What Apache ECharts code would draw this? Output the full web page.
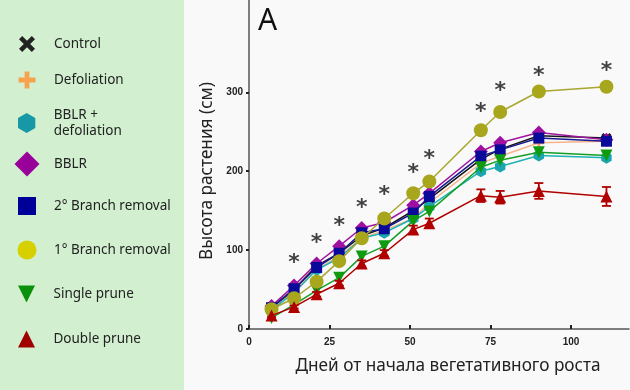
<!DOCTYPE html>
<html><head><meta charset="utf-8">
<script src="https://cdn.jsdelivr.net/npm/echarts@6/dist/echarts.min.js"></script>
<style>html,body{margin:0;padding:0;background:#f9f9f9}#c{width:630px;height:390px}</style>
</head><body><div id="c"></div>
<script>
const days = [7, 14, 21, 28, 35, 42, 51, 56, 72, 78, 90, 111];
const control = [27, 50, 80, 96, 118, 128, 150, 165, 215, 228, 245, 242];
const defoliation = [25, 48, 76, 92, 115, 125, 140, 160, 210, 219, 236, 238];
const bblrDefoliation = [24, 46, 75, 90, 115, 122, 140, 155, 200, 206, 220, 217];
const bblr = [29, 55, 83, 105, 128, 135, 157, 172, 225, 236, 249, 240];
const branch2 = [27, 51, 78, 96, 122, 127, 147, 168, 219, 227, 242, 238];
const branch1 = [25, 39, 60, 86, 115, 140, 172, 187, 252, 275, 301, 307];
const singlePrune = [14, 31, 49, 65, 92, 105, 137, 149, 205, 214, 224, 220];
const doublePrune = [17, 28, 44, 58, 83, 96, 126, 134, 169, 167, 175, 168];
const doublePruneErr = [2, 2, 3, 3, 4, 4, 5, 6, 8, 8, 10, 12];
const starDays = [14, 21, 28, 35, 42, 51, 56, 72, 78, 90, 111];
const starHeights = [88, 114, 135, 158, 174, 202, 220, 280, 307, 326, 332];
const xTicks = [0, 25, 50, 75, 100];
const yTicks = [0, 100, 200, 300];
const legendNames = ['Control', 'Defoliation', 'BBLR +\ndefoliation', 'BBLR', '2° Branch removal', '1° Branch removal', 'Single prune', 'Double prune'];

const P = {
  x: 'path://M2,0 L5,3 L8,0 L10,2 L7,5 L10,8 L8,10 L5,7 L2,10 L0,8 L3,5 L0,2 Z',
  plus: 'path://M3.6,0 H6.4 V3.6 H10 V6.4 H6.4 V10 H3.6 V6.4 H0 V3.6 H3.6 Z',
  hex: 'path://M5,0 L10,2.9 L10,8.66 L5,11.55 L0,8.66 L0,2.9 Z',
  diamond: 'path://M5,0 L10,5 L5,10 L0,5 Z',
  rect: 'path://M0,0 H10 V10 H0 Z',
  circle: 'path://M5,0 A5,5 0 1,1 5,10 A5,5 0 1,1 5,0 Z',
  down: 'path://M0,0 L10,0 L5,10 Z',
  up: 'path://M5,0 L10,10 L0,10 Z'
};

const defs = [
  {name: legendNames[0], data: control, line: '#151515', color: '#151515', sym: P.x, size: 10, icon: P.x, icolor: '#222', iw: 16, ih: 16, cy: 44, z: 3},
  {name: legendNames[1], data: defoliation, line: '#f6b48a', color: '#f6a56a', sym: P.plus, size: 10, icon: P.plus, icolor: '#f7a24f', iw: 17, ih: 17, cy: 80, z: 2},
  {name: legendNames[2], data: bblrDefoliation, line: '#1fb3b3', color: '#1aa5b0', sym: P.hex, size: 12, icon: P.hex, icolor: '#1798a6', iw: 18, ih: 20, cy: 123, z: 4, th: 32},
  {name: legendNames[3], data: bblr, line: '#a014a0', color: '#a010a0', sym: P.diamond, size: 14, icon: P.diamond, icolor: '#990099', iw: 25, ih: 25, cy: 164, z: 5},
  {name: legendNames[4], data: branch2, line: '#1a1a90', color: '#0a0a9a', sym: P.rect, size: 11, icon: P.rect, icolor: '#000099', iw: 18, ih: 18, cy: 206, z: 6},
  {name: legendNames[5], data: branch1, line: '#a8a630', color: '#a8a61c', sym: P.circle, size: 14, icon: P.circle, icolor: '#d6d000', iw: 19, ih: 19, cy: 250, z: 8},
  {name: legendNames[6], data: singlePrune, line: '#14a028', color: '#109a10', sym: P.down, size: 12, icon: P.down, icolor: '#0a900a', iw: 18, ih: 17, cy: 294, z: 7},
  {name: legendNames[7], data: doublePrune, line: '#b00000', color: '#b00000', sym: P.up, size: 12, icon: P.up, icolor: '#a00000', iw: 18, ih: 17, cy: 339, z: 9}
];

const series = defs.map(d => ({
  name: d.name, type: 'line', z: d.z,
  data: days.map((x, i) => [x, d.data[i]]),
  symbol: d.sym, symbolSize: d.size, symbolKeepAspect: true,
  lineStyle: {color: d.line, width: 1.5},
  itemStyle: {color: d.color},
  animation: false
}));

series.push({
  type: 'custom', z: 8, animation: false,
  data: days.map((x, i) => [x, doublePrune[i] - doublePruneErr[i], doublePrune[i] + doublePruneErr[i]]),
  renderItem: function (params, api) {
    const x = api.value(0);
    const top = api.coord([x, api.value(2)]);
    const bot = api.coord([x, api.value(1)]);
    const w = 4.5;
    const st = {stroke: '#b00000', lineWidth: 1.8};
    return {type: 'group', children: [
      {type: 'line', shape: {x1: top[0], y1: top[1], x2: bot[0], y2: bot[1]}, style: st},
      {type: 'line', shape: {x1: top[0] - w, y1: top[1], x2: top[0] + w, y2: top[1]}, style: st},
      {type: 'line', shape: {x1: bot[0] - w, y1: bot[1], x2: bot[0] + w, y2: bot[1]}, style: st}
    ]};
  }
});

series.push({
  type: 'scatter', z: 10, animation: false, symbolSize: 0, silent: true,
  data: starDays.map((x, i) => [x, starHeights[i]]),
  label: {show: true, position: 'inside', formatter: '*', fontSize: 22, fontWeight: 'bold',
    fontFamily: 'DejaVu Sans', color: '#111', offset: [0, 4]}
});

const legends = defs.map(d => ({
  show: true, orient: 'vertical', left: 27 - d.iw / 2 - 5,
  top: d.cy - Math.max(d.ih, d.th || 0) / 2 - 5,
  itemWidth: d.iw, itemHeight: d.ih, symbolKeepAspect: true,
  selectedMode: false,
  data: [{name: d.name, icon: d.icon, itemStyle: {color: d.icolor}}],
  textStyle: {fontFamily: 'Noto Sans', fontSize: 13.5, color: '#222', lineHeight: 16,
    padding: [0, 0, 0, 22 - d.iw / 2]}
}));

const chart = echarts.init(document.getElementById('c'), null, {renderer: 'canvas'});
chart.setOption({
  backgroundColor: '#f9f9f9',
  animation: false,
  graphic: [
    {type: 'rect', left: 0, top: 0, z: -10, shape: {width: 184, height: 390}, style: {fill: '#d2f0d0'}},
    {type: 'text', left: 258, top: 6, style: {text: 'A', fontSize: 30, fontFamily: 'Noto Sans', fill: '#111'}}
  ],
  legend: legends,
  grid: {left: 249, right: 1, top: 0, bottom: 61},
  xAxis: {
    type: 'value', min: 0, max: 118, interval: 25,
    name: 'Дней от начала вегетативного роста', nameLocation: 'middle', nameGap: 29,
    nameTextStyle: {fontFamily: 'Noto Sans', fontSize: 17.2, color: '#222', padding: [0, 0, 0, 18]},
    axisLine: {lineStyle: {color: '#555', width: 1.5}},
    axisTick: {inside: true, length: 4, lineStyle: {color: '#222', width: 2}, customValues: xTicks},
    axisLabel: {customValues: xTicks, fontFamily: 'Liberation Sans', fontWeight: 'bold', fontSize: 10, color: '#222', margin: 8},
    splitLine: {show: false}
  },
  yAxis: {
    type: 'value', min: 0, max: 417, interval: 100,
    name: 'Высота растения (см)', nameLocation: 'middle', nameGap: 32,
    nameTextStyle: {fontFamily: 'Noto Sans', fontSize: 17.2, color: '#222', padding: [0, 13, 0, 0]},
    axisLine: {show: true, lineStyle: {color: '#555', width: 1.5}},
    axisTick: {show: true, length: 3, lineStyle: {color: '#222', width: 2}, customValues: yTicks},
    axisLabel: {customValues: yTicks, fontFamily: 'Liberation Sans', fontWeight: 'bold', fontSize: 10, color: '#222', margin: 6},
    splitLine: {show: false}
  },
  series: series
});
</script></body></html>
